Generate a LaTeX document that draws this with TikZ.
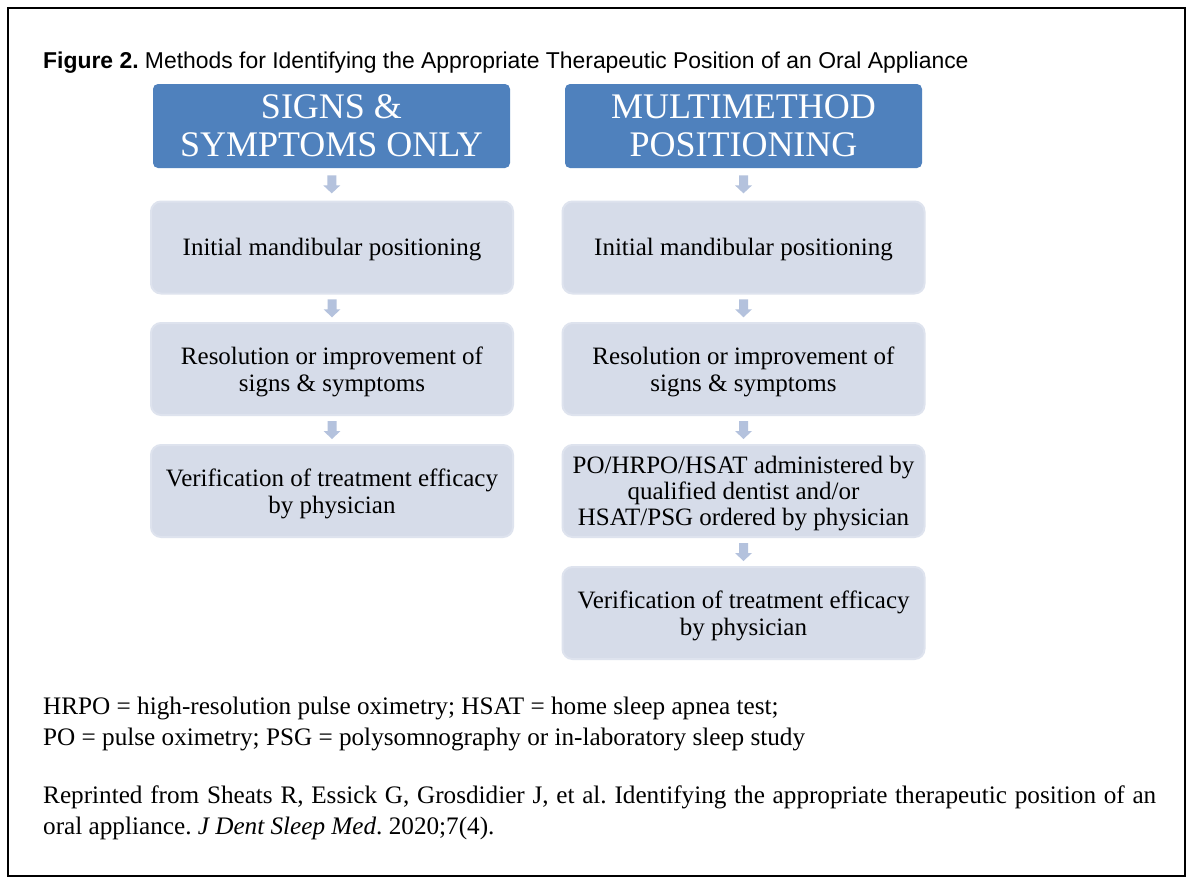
\documentclass[tikz,border=0pt]{standalone}
\usepackage{fontspec}
\setmainfont{Liberation Serif}
\newfontfamily\arialf{Liberation Sans}
\usetikzlibrary{calc}
\frenchspacing
\definecolor{hdrblue}{RGB}{79,129,189}
\definecolor{boxfill}{RGB}{214,220,233}
\definecolor{boxedge}{RGB}{222,227,238}
\definecolor{arrowc}{RGB}{180,194,221}
\tikzset{
  hdr/.style={draw=none, fill=hdrblue, rounded corners=5pt, minimum width=357pt, minimum height=84pt, inner sep=0pt,
    text=white, align=center, font=\fontsize{36}{38}\selectfont},
  stepbox/.style={draw=boxedge, line width=2pt, fill=boxfill, rounded corners=10pt, minimum width=362pt, minimum height=92pt, inner sep=0pt,
    align=center, font=\fontsize{25}{27}\selectfont},
  note/.style={anchor=base west, inner sep=0pt, font=\fontsize{25.2}{31}\selectfont},
  darr/.style={fill=arrowc, draw=none},
}
\newcommand{\dn}[1]{\rule{0pt}{#1pt}}
% block arrow between two named nodes
\newcommand{\blockarrow}[3]{%
  \coordinate (#1) at ($(#2.south)!0.5!(#3.north)$);
  \fill[darr] ($(#1)+(-4.5,-9)$) -- ($(#1)+(4.5,-9)$) -- ($(#1)+(4.5,1)$) -- ($(#1)+(8.5,1)$)
    -- ($(#1)+(0,9)$) -- ($(#1)+(-8.5,1)$) -- ($(#1)+(-4.5,1)$) -- cycle;
}
\begin{document}
\begin{tikzpicture}[x=1pt,y=-1pt]
\useasboundingbox (0,0) rectangle (1194,884);
\fill[white] (0,0) rectangle (1194,884);
\draw[line width=1.2pt] (8,8) rectangle (1185,876);
\node[anchor=base west, inner sep=0pt, font=\arialf\fontsize{22.9}{24}\selectfont] (title) at (43,68)
  {\textbf{Figure 2.} Methods for Identifying the Appropriate Therapeutic Position of an Oral Appliance};
% left column
\node[hdr] (lh) at (331.5,126) {SIGNS \&\\SYMPTOMS ONLY};
\node[stepbox] (l1) at (332,247.5) {\dn{21}Initial mandibular positioning};
\node[stepbox] (l2) at (332,369) {\dn{23}Resolution or improvement of\\signs \& symptoms};
\node[stepbox] (l3) at (332,491) {\dn{23}Verification of treatment efficacy\\by physician};
% right column
\node[hdr] (rh) at (743.5,126) {MULTIMETHOD\\POSITIONING};
\node[stepbox] (r1) at (743.5,247.5) {\dn{21}Initial mandibular positioning};
\node[stepbox] (r2) at (743.5,369) {\dn{23}Resolution or improvement of\\signs \& symptoms};
\node[stepbox, font=\fontsize{25}{26}\selectfont] (r3) at (743.5,491) {\dn{23}PO/HRPO/HSAT administered by\\qualified dentist and/or\\HSAT/PSG ordered by physician};
\node[stepbox] (r4) at (743.5,613) {\dn{23}Verification of treatment efficacy\\by physician};
% arrows
\blockarrow{a1}{lh}{l1}
\blockarrow{a2}{l1}{l2}
\blockarrow{a3}{l2}{l3}
\blockarrow{b1}{rh}{r1}
\blockarrow{b2}{r1}{r2}
\blockarrow{b3}{r2}{r3}
\blockarrow{b4}{r3}{r4}
% notes
\node[note] (n1) at (43,714)
  {HRPO = high-resolution pulse oximetry; HSAT = home sleep apnea test;};
\node[note] (n2) at (43,745)
  {PO = pulse oximetry; PSG = polysomnography or in-laboratory sleep study};
\node[anchor=north west, inner sep=0pt, text width=1113pt, align=justify, font=\fontsize{25.2}{31}\selectfont] (ref) at (43,786)
  {Reprinted from Sheats R, Essick G, Grosdidier J, et al. Identifying the appropriate therapeutic position of an\linebreak oral appliance. \textit{J Dent Sleep Med}. 2020;7(4).};
\end{tikzpicture}
\end{document}
